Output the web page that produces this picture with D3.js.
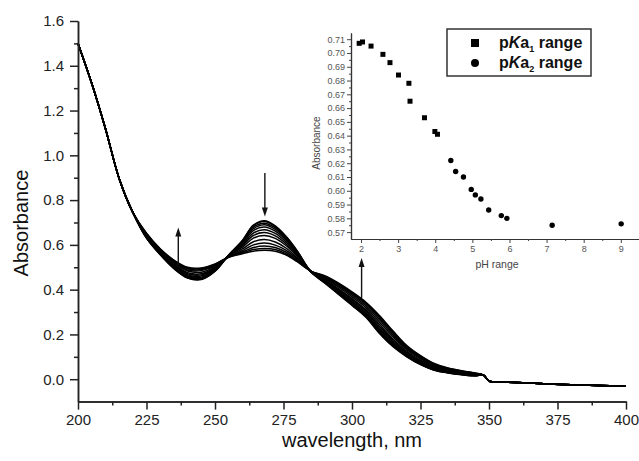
<!DOCTYPE html>
<html>
<head>
<meta charset="utf-8">
<script src="https://cdnjs.cloudflare.com/ajax/libs/d3/7.8.5/d3.min.js"></script>
<style>
body { margin: 0; background: #fff; }
text { font-family: "Liberation Sans", Arial, sans-serif; }
</style>
</head>
<body>
<div id="chart-area"></div>
<script>
// ---- data ----
// common start of every spectrum (all curves overlap here)
const wlLeft = [200, 205, 210, 215, 220];
const absLeft = [1.500, 1.322, 1.120, 0.897, 0.745];

// part where the spectra fan out, one row per spectrum (pH 2 -> pH 9)
const wlMid = [225, 230, 235, 240, 245, 250, 255, 260, 264, 268, 272, 276, 280, 285, 290, 295, 300, 305, 310, 315, 320, 325, 330, 335, 340, 345];
const spectra = [
  [0.630,0.556,0.494,0.452,0.445,0.482,0.555,0.620,0.688,0.708,0.685,0.637,0.573,0.480,0.430,0.380,0.330,0.278,0.205,0.145,0.100,0.065,0.040,0.028,0.020,0.015],
  [0.631,0.557,0.495,0.453,0.447,0.483,0.555,0.618,0.685,0.704,0.682,0.635,0.572,0.480,0.431,0.382,0.332,0.280,0.207,0.147,0.102,0.066,0.041,0.029,0.021,0.015],
  [0.632,0.558,0.497,0.456,0.449,0.485,0.554,0.615,0.679,0.697,0.676,0.630,0.569,0.480,0.433,0.384,0.335,0.283,0.211,0.151,0.104,0.068,0.042,0.030,0.021,0.016],
  [0.633,0.560,0.499,0.459,0.452,0.487,0.554,0.612,0.672,0.690,0.669,0.626,0.566,0.480,0.435,0.387,0.338,0.287,0.216,0.155,0.107,0.071,0.044,0.031,0.023,0.017],
  [0.635,0.562,0.502,0.462,0.456,0.489,0.553,0.607,0.664,0.680,0.661,0.620,0.563,0.481,0.437,0.391,0.343,0.292,0.222,0.160,0.111,0.073,0.046,0.033,0.024,0.018],
  [0.637,0.564,0.505,0.466,0.461,0.492,0.552,0.602,0.653,0.668,0.651,0.612,0.559,0.481,0.440,0.395,0.348,0.298,0.229,0.166,0.115,0.077,0.049,0.035,0.025,0.019],
  [0.639,0.567,0.509,0.471,0.466,0.495,0.551,0.596,0.642,0.655,0.640,0.604,0.554,0.481,0.443,0.400,0.354,0.305,0.237,0.173,0.120,0.081,0.052,0.037,0.027,0.020],
  [0.641,0.570,0.513,0.476,0.471,0.499,0.550,0.590,0.630,0.642,0.629,0.596,0.549,0.482,0.446,0.405,0.360,0.312,0.245,0.180,0.125,0.085,0.055,0.039,0.029,0.022],
  [0.644,0.573,0.518,0.483,0.478,0.503,0.549,0.582,0.614,0.624,0.613,0.585,0.542,0.482,0.451,0.412,0.368,0.321,0.256,0.190,0.132,0.091,0.059,0.042,0.032,0.023],
  [0.647,0.577,0.523,0.488,0.485,0.507,0.547,0.574,0.600,0.608,0.599,0.575,0.537,0.482,0.454,0.418,0.376,0.329,0.266,0.198,0.138,0.095,0.063,0.045,0.034,0.025],
  [0.649,0.579,0.527,0.493,0.490,0.510,0.546,0.568,0.588,0.595,0.588,0.567,0.532,0.483,0.458,0.423,0.382,0.336,0.274,0.205,0.143,0.099,0.066,0.047,0.036,0.026],
  [0.651,0.581,0.530,0.497,0.494,0.513,0.546,0.564,0.579,0.584,0.579,0.560,0.528,0.483,0.460,0.427,0.386,0.341,0.280,0.211,0.147,0.103,0.068,0.049,0.037,0.027],
  [0.652,0.583,0.532,0.500,0.497,0.515,0.545,0.560,0.572,0.576,0.572,0.555,0.525,0.483,0.462,0.430,0.390,0.345,0.285,0.215,0.150,0.105,0.070,0.050,0.038,0.028]
];

// common tail (all curves overlap again, small step near 350 nm)
const wlRight = [348, 350, 355, 360, 370, 380, 390, 400];
const absRight = [0.018, -0.008, -0.012, -0.015, -0.020, -0.025, -0.028, -0.030];

// arrows on the spectra (wavelength, from -> to absorbance)
const arrowWl = [236.6, 268.2, 303.5];
const arrowFrom = [0.510, 0.921, 0.363];
const arrowTo = [0.678, 0.727, 0.541];

// inset: absorbance at the band maximum vs pH
const phKa1 = [1.95, 2.04, 2.27, 2.59, 2.78, 3.01, 3.29, 3.32, 3.71, 3.99, 4.06];
const absKa1 = [0.707, 0.708, 0.705, 0.699, 0.693, 0.684, 0.678, 0.665, 0.653, 0.643, 0.641];
const phKa2 = [4.42, 4.55, 4.76, 4.97, 5.08, 5.23, 5.44, 5.78, 5.93, 7.15, 9.01];
const absKa2 = [0.622, 0.614, 0.610, 0.601, 0.597, 0.594, 0.586, 0.582, 0.580, 0.575, 0.576];

const xTicks = [200, 225, 250, 275, 300, 325, 350, 375, 400];
const yTicks = [0, 0.2, 0.4, 0.6, 0.8, 1.0, 1.2, 1.4, 1.6];
const phTicks = [2, 3, 4, 5, 6, 7, 8, 9];

var width = 639;
var height = 461;

const svg = d3.select("#chart-area")
  .append("svg")
    .attr("width", width)
    .attr("height", height)
    .style("display", "block");

svg.append("rect").attr("width", width).attr("height", height).attr("fill", "#fff");

//Scales
var x = d3.scaleLinear().domain([200, 400]).range([78, 626]);
var y = d3.scaleLinear().domain([-0.1, 1.6]).range([401.6, 21]);

//Spectra
var line = d3.line()
  .x(d => x(d[0]))
  .y(d => y(d[1]))
  .curve(d3.curveCatmullRom.alpha(0.5));

const curves = spectra.map(s => {
  const left = wlLeft.map((w, i) => [w, absLeft[i]]);
  const mid = wlMid.map((w, i) => [w, s[i]]);
  const right = wlRight.map((w, i) => [w, absRight[i]]);
  return left.concat(mid, right);
});

svg.append("g")
  .selectAll("path")
  .data(curves)
  .enter().append("path")
    .attr("d", line)
    .attr("fill", "none")
    .attr("stroke", "#000")
    .attr("stroke-width", 1.5);

//Arrows
const arrows = svg.append("g");
arrowWl.forEach((w, i) => {
  const ax = x(w), y0 = y(arrowFrom[i]), y1 = y(arrowTo[i]);
  const dir = y1 < y0 ? 1 : -1;
  arrows.append("line")
    .attr("x1", ax).attr("x2", ax)
    .attr("y1", y0).attr("y2", y1 + dir * 6)
    .attr("stroke", "#111")
    .attr("stroke-width", 1.4);
  arrows.append("path")
    .attr("d", `M${ax},${y1} L${ax - 3},${y1 + dir * 9} L${ax + 3},${y1 + dir * 9} Z`)
    .attr("fill", "#111");
});

//Axes
function styleAxis(g, col, fs) {
  g.selectAll("path.domain").attr("stroke", col).attr("stroke-width", 1.5);
  g.selectAll(".tick line").attr("stroke", col).attr("stroke-width", 1.5);
  g.selectAll(".tick text").attr("fill", col).style("font-size", fs + "px")
    .style("font-family", '"Liberation Sans", Arial, sans-serif');
}

var xAxisGroup = svg.append("g")
  .attr("transform", "translate(0, 401.6)")
  .call(d3.axisBottom(x).tickValues(xTicks).tickSize(8).tickPadding(5).tickSizeOuter(0));
svg.append("g")
  .attr("transform", "translate(0, 401.6)")
  .call(d3.axisBottom(x).tickValues(d3.range(8).map(i => 212.5 + i * 25)).tickSize(4).tickFormat("").tickSizeOuter(0))
  .call(g => styleAxis(g, "#222", 15));
styleAxis(xAxisGroup, "#222", 15);

var yAxisGroup = svg.append("g")
  .attr("transform", "translate(78, 0)")
  .call(d3.axisLeft(y).tickValues(yTicks).tickFormat(d3.format(".1f")).tickSize(8).tickPadding(6).tickSizeOuter(0));
svg.append("g")
  .attr("transform", "translate(78, 0)")
  .call(d3.axisLeft(y).tickValues(d3.range(8).map(i => 0.1 + i * 0.2)).tickSize(4).tickFormat("").tickSizeOuter(0))
  .call(g => styleAxis(g, "#222", 15));
styleAxis(yAxisGroup, "#222", 15);

//Labels
svg.append("text")
  .attr("x", 352)
  .attr("y", 447)
  .attr("text-anchor", "middle")
  .attr("fill", "#111")
  .style("font-size", "20px")
  .text("wavelength, nm");

svg.append("text")
  .attr("transform", "rotate(-90)")
  .attr("x", -223)
  .attr("y", 28)
  .attr("text-anchor", "middle")
  .attr("fill", "#111")
  .style("font-size", "20px")
  .text("Absorbance");

// ---- inset ----
var xi = d3.scaleLinear().domain([1.73, 9.49]).range([351, 639]);
var yi = d3.scaleLinear().domain([0.565, 0.7145]).range([239, 33]);

function styleInset(g) {
  g.selectAll("path.domain").attr("stroke", "#333").attr("stroke-width", 1.2);
  g.selectAll(".tick line").attr("stroke", "#444").attr("stroke-width", 1);
  g.selectAll(".tick text").attr("fill", "#555").style("font-size", "9px")
    .style("font-family", '"Liberation Sans", Arial, sans-serif');
}

svg.append("g")
  .attr("transform", "translate(0, 239)")
  .call(d3.axisBottom(xi).tickValues(phTicks).tickFormat(d3.format("d")).tickSize(4).tickPadding(3).tickSizeOuter(0))
  .call(styleInset);
svg.append("g")
  .attr("transform", "translate(0, 239)")
  .call(d3.axisBottom(xi).tickValues(d3.range(7).map(i => 2.5 + i)).tickSize(2).tickFormat("").tickSizeOuter(0))
  .call(styleInset);

svg.append("g")
  .attr("transform", "translate(351, 0)")
  .call(d3.axisLeft(yi).tickValues(d3.range(57, 72).map(d => d / 100)).tickFormat(d3.format(".2f")).tickSize(4).tickPadding(2).tickSizeOuter(0))
  .call(styleInset);
svg.append("g")
  .attr("transform", "translate(351, 0)")
  .call(d3.axisLeft(yi).tickValues(d3.range(57, 71).map(d => (d + 0.5) / 100)).tickSize(2).tickFormat("").tickSizeOuter(0))
  .call(styleInset);

svg.append("text")
  .attr("x", 497)
  .attr("y", 268)
  .attr("text-anchor", "middle")
  .attr("fill", "#444")
  .style("font-size", "10.5px")
  .text("pH range");

svg.append("text")
  .attr("transform", "rotate(-90)")
  .attr("x", -143)
  .attr("y", 320)
  .attr("text-anchor", "middle")
  .attr("fill", "#444")
  .style("font-size", "10px")
  .text("Absorbance");

// points
svg.append("g")
  .selectAll("rect")
  .data(phKa1.map((p, i) => [p, absKa1[i]]))
  .enter().append("rect")
    .attr("x", d => xi(d[0]) - 2.5)
    .attr("y", d => yi(d[1]) - 2.5)
    .attr("width", 5)
    .attr("height", 5)
    .attr("fill", "#000");

svg.append("g")
  .selectAll("circle")
  .data(phKa2.map((p, i) => [p, absKa2[i]]))
  .enter().append("circle")
    .attr("cx", d => xi(d[0]))
    .attr("cy", d => yi(d[1]))
    .attr("r", 2.7)
    .attr("fill", "#000");

// legend
const legend = svg.append("g");
legend.append("rect")
  .attr("x", 447).attr("y", 29)
  .attr("width", 144).attr("height", 47)
  .attr("fill", "#fff")
  .attr("stroke", "#333")
  .attr("stroke-width", 1.5);

["1", "2"].forEach((sub, i) => {
  const ly = 43 + i * 20;
  if (i === 0) {
    legend.append("rect").attr("x", 471).attr("y", ly - 4).attr("width", 8).attr("height", 8).attr("fill", "#000");
  } else {
    legend.append("circle").attr("cx", 475).attr("cy", ly).attr("r", 4).attr("fill", "#000");
  }
  const t = legend.append("text")
    .attr("x", 499)
    .attr("y", ly + 5)
    .attr("fill", "#111")
    .style("font-size", "16px")
    .style("font-weight", "bold");
  t.append("tspan").text("p");
  t.append("tspan").style("font-style", "italic").text("K");
  t.append("tspan").text("a");
  t.append("tspan").attr("dy", 4).style("font-size", "9px").text(sub);
  t.append("tspan").attr("dy", -4).text(" range");
});
</script>
</body>
</html>
